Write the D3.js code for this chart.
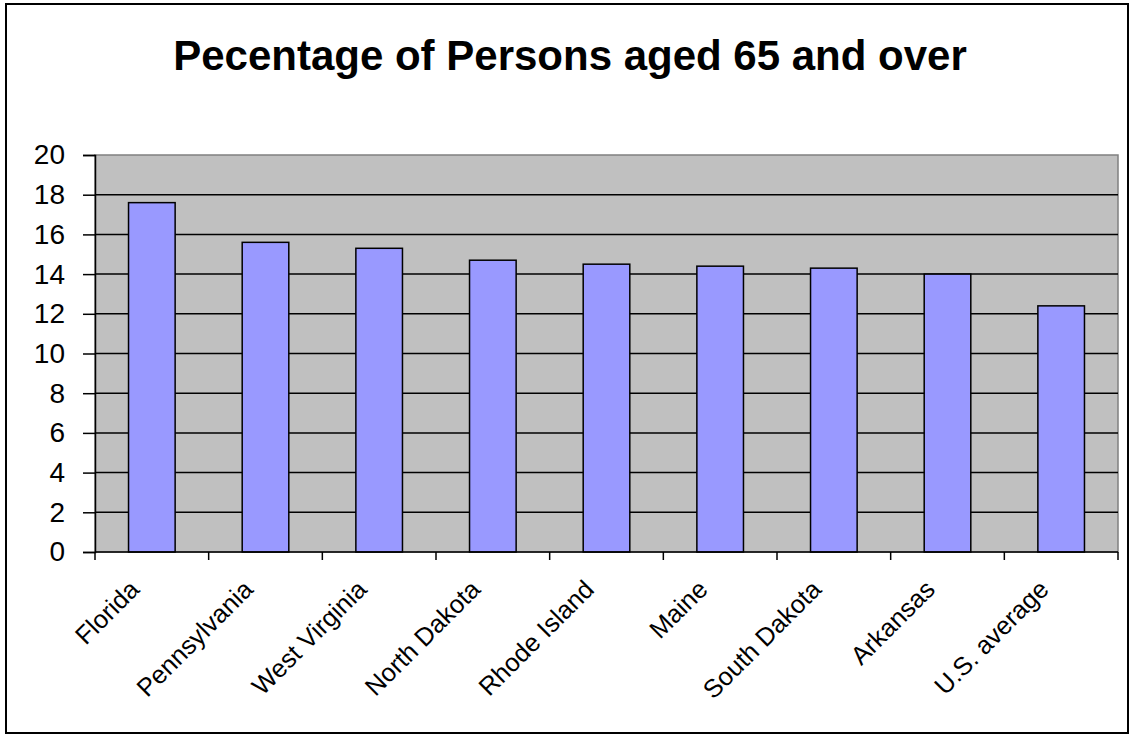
<!DOCTYPE html>
<meta charset="utf-8">
<script src="https://d3js.org/d3.v7.min.js"></script>
<style>
  body { margin: 0; background: #fff; }
  text { font-family: "Liberation Sans", Arial, sans-serif; }
</style>
<div id="chart"></div>
<script>
// Data
var states = ["Florida", "Pennsylvania", "West Virginia", "North Dakota", "Rhode Island",
              "Maine", "South Dakota", "Arkansas", "U.S. average"];
var percent65 = [17.6, 15.6, 15.3, 14.7, 14.5, 14.4, 14.3, 14.0, 12.4];
var yTicks = [0, 2, 4, 6, 8, 10, 12, 14, 16, 18, 20];

var W = 1130, H = 734;
var margin = {top: 155, right: 12, bottom: 182, left: 95};
var width = 1118 - margin.left,
    height = 552 - margin.top;

var svg = d3.select("#chart").append("svg")
    .attr("width", W)
    .attr("height", H);

// outer chart frame
svg.append("rect")
    .attr("x", 6).attr("y", 4)
    .attr("width", W - 8).attr("height", H - 5)
    .attr("fill", "#fff")
    .attr("stroke", "#000")
    .attr("stroke-width", 2);

svg.append("text")
    .attr("x", 570)
    .attr("y", 70)
    .attr("text-anchor", "middle")
    .attr("font-size", 42)
    .attr("font-weight", "bold")
    .text("Pecentage of Persons aged 65 and over");

var g = svg.append("g")
    .attr("transform", `translate(${margin.left},${margin.top})`);

var x = d3.scaleBand()
    .domain(states)
    .range([0, width])
    .padding(0);

var y = d3.scaleLinear()
    .domain([0, 20])
    .range([height, 0]);

// plot area
g.append("rect")
    .attr("width", width)
    .attr("height", height)
    .attr("fill", "#c0c0c0")
    .attr("stroke", "#808080")
    .attr("stroke-width", 1.5);

// gridlines
g.append("g")
  .selectAll("line")
  .data(yTicks.filter(d => d > 0 && d < 20))
  .join("line")
    .attr("x1", 0)
    .attr("x2", width)
    .attr("y1", d => y(d))
    .attr("y2", d => y(d))
    .attr("stroke", "#000")
    .attr("stroke-width", 1.5);

// bars
var barW = x.bandwidth() * 0.41;
g.append("g")
  .selectAll("rect")
  .data(states)
  .join("rect")
    .attr("x", d => x(d) + (x.bandwidth() - barW) / 2)
    .attr("y", (d, i) => y(percent65[i]))
    .attr("width", barW)
    .attr("height", (d, i) => height - y(percent65[i]))
    .attr("fill", "#9999ff")
    .attr("stroke", "#000")
    .attr("stroke-width", 1.5);

// y axis
var yAxis = g.append("g")
    .call(d3.axisLeft(y).tickValues(yTicks).tickSize(12).tickPadding(18));
yAxis.select(".domain").attr("stroke", "#000").attr("stroke-width", 1.5);
yAxis.selectAll(".tick line").attr("stroke", "#000").attr("stroke-width", 1.5);
yAxis.selectAll(".tick text")
    .attr("font-size", 28)
    .attr("font-family", "Liberation Sans, Arial, sans-serif")
    .attr("fill", "#000");

// x axis: ticks on the category boundaries
var xAxisG = g.append("g")
    .attr("transform", `translate(0,${height})`);
xAxisG.append("line")
    .attr("x1", 0).attr("x2", width)
    .attr("stroke", "#000").attr("stroke-width", 1.5);
xAxisG.selectAll("line.tick")
  .data(states.concat([null]))
  .join("line")
    .attr("class", "tick")
    .attr("x1", (d, i) => i * x.step())
    .attr("x2", (d, i) => i * x.step())
    .attr("y1", 0)
    .attr("y2", 8)
    .attr("stroke", "#000")
    .attr("stroke-width", 1.5);

xAxisG.selectAll("text")
  .data(states)
  .join("text")
    .attr("transform", d => `translate(${x(d) + x.bandwidth() / 2 - 11},${39}) rotate(-45)`)
    .attr("text-anchor", "end")
    .attr("font-size", 25.5)
    .attr("fill", "#000")
    .text(d => d);
</script>
